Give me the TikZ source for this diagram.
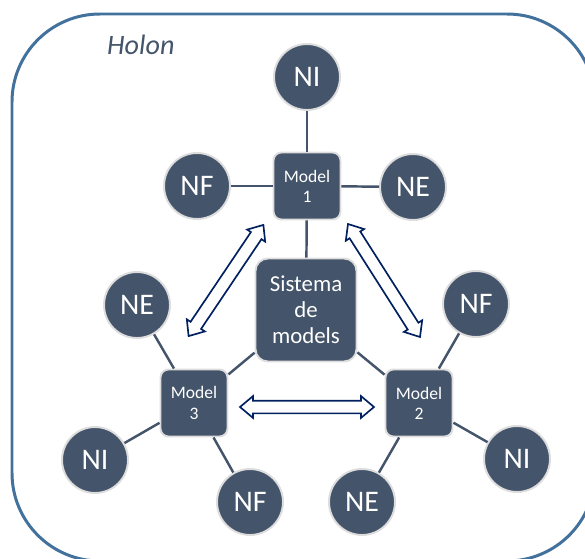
\documentclass[tikz,border=0pt]{standalone}
\usepackage{fontspec}
\setmainfont{Carlito}
\definecolor{hSlate}{HTML}{44546A}
\definecolor{hBlue}{HTML}{41719C}
\definecolor{hNavy}{HTML}{002060}
\definecolor{hRim}{HTML}{DDDDDD}
\usetikzlibrary{shapes.arrows}

\begin{document}
\begin{tikzpicture}[x=0.02cm, y=-0.02cm,
  ci/.style={circle, fill=hSlate, draw=hRim, line width=1.1pt,
             minimum size=1.32cm, inner sep=0pt, text=white,
             font=\fontsize{17}{18}\selectfont},
  bx/.style={rectangle, rounded corners=4.5pt, fill=hSlate, draw=hRim,
             line width=1.1pt, minimum size=1.34cm, inner sep=0pt,
             text=white, align=center, font=\fontsize{10}{11.5}\selectfont},
  sy/.style={bx, minimum width=2.02cm, minimum height=2.06cm,
             rounded corners=7pt, font=\fontsize{13}{14.7}\selectfont},
  ln/.style={draw=hSlate, line width=1.4pt},
  da/.style={double arrow, draw=hNavy, fill=white, line width=0.95pt,
             inner sep=0.11cm, minimum height=2.68cm, sloped,
             double arrow head extend=0.09cm, double arrow tip angle=80}]
  \useasboundingbox (0,0) rectangle (585,558);
  \clip (0,0) rectangle (585,558);
  % holon frame
  \draw[hBlue, line width=1.7pt, rounded corners=1.76cm]
    (12,14) rectangle (595,561);
  \node[font=\fontsize{16}{18}\selectfont\itshape, text=hSlate,
        anchor=base west] (hl) at (101,54) {Holon};
  % models
  \node[sy] (sm) at (306,310) {Sistema\\de\\models};
  \node[bx] (m1) at (307,186) {Model\\1};
  \node[bx] (m2) at (419,403) {Model\\2};
  \node[bx] (m3) at (194,403) {Model\\3};
  % nodes round each model
  \node[ci] (ni1) at (307,77)  {NI};
  \node[ci] (nf1) at (197,186) {NF};
  \node[ci] (ne1) at (413,187) {NE};
  \node[ci] (nf2) at (476,304) {NF};
  \node[ci] (ni2) at (517,459) {NI};
  \node[ci] (ne2) at (362,502) {NE};
  \node[ci] (ne3) at (137,305) {NE};
  \node[ci] (ni3) at (95,460)  {NI};
  \node[ci] (nf3) at (250,502) {NF};
  \foreach \a/\b in {m1/ni1,m1/nf1,m1/ne1,m1/sm,sm/m2,sm/m3,
                     m2/nf2,m2/ni2,m2/ne2,m3/ne3,m3/ni3,m3/nf3}
    \draw[ln] (\a) -- (\b);
  % exchange arrows
  \coordinate (p13) at (188,337); \coordinate (q13) at (264,224);
  \coordinate (p12) at (348,224); \coordinate (q12) at (420,337);
  \coordinate (p32) at (240,407); \coordinate (q32) at (374,407);
  \path (p13) -- node[da] {} (q13);
  \path (p12) -- node[da] {} (q12);
  \path (p32) -- node[da] {} (q32);
\end{tikzpicture}
\end{document}
